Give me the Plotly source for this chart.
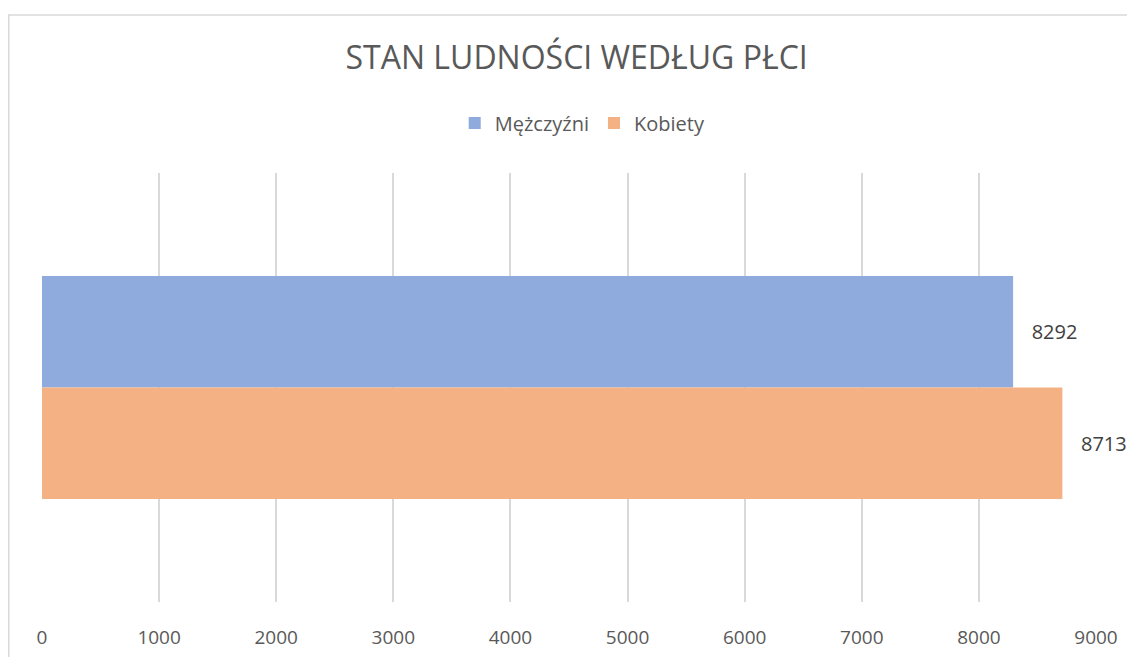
import plotly.graph_objects as go

title_text = "STAN LUDNOŚCI WEDŁUG PŁCI"
category = [""]
series_names = ["Mężczyźni", "Kobiety"]
series_values = [[8292], [8713]]
series_colors = ["#8FAADC", "#F4B183"]
tick_vals = [0, 1000, 2000, 3000, 4000, 5000, 6000, 7000, 8000, 9000]

FONT = "Open Sans"

# page body adds an 8px offset; plot area in figure coords: x 34..1088, y 165..594
fig = go.Figure()
for name, vals, col in zip(series_names, series_values, series_colors):
    fig.add_trace(go.Bar(
        name=name, y=category, x=vals, orientation="h",
        marker=dict(color=col, line=dict(width=0)),
        text=["   " + str(v) for v in vals],
        textposition="outside", cliponaxis=False, constraintext="none",
        textfont=dict(family=FONT, size=20, color="#404040"),
    ))

fig.update_layout(
    width=1135, height=657,
    margin=dict(l=34, r=47, t=165, b=63),
    paper_bgcolor="white", plot_bgcolor="white",
    barmode="group", bargap=0.48, bargroupgap=0,
    title=dict(text=title_text, x=0.501, xref="container", xanchor="center",
               y=1 - 50 / 657, yref="container", yanchor="middle",
               font=dict(family=FONT, size=32, color="#595959")),
    legend=dict(orientation="h", x=0.513, xanchor="center", y=(594 - 115) / 429, yanchor="middle",
                font=dict(family=FONT, size=20, color="#595959"),
                traceorder="normal", itemwidth=30),
    showlegend=True,
    xaxis=dict(range=[0, 9000], tickvals=tick_vals, showgrid=True,
               gridcolor="#D9D9D9", gridwidth=1.5, zeroline=False,
               showline=False, ticks="", ticklabelstandoff=22,
               tickfont=dict(family=FONT, size=19, color="#595959")),
    yaxis=dict(autorange="reversed", showticklabels=False, showgrid=False,
               zeroline=False, showline=False, ticks=""),
    shapes=[dict(type="rect", xref="paper", yref="paper",
                 x0=(0.75 - 34) / 1054, x1=1.2, y0=-0.3, y1=(594 - 7) / 429,
                 line=dict(color="#D9D9D9", width=1.5), layer="below")],
)

fig.write_html("out.html")
